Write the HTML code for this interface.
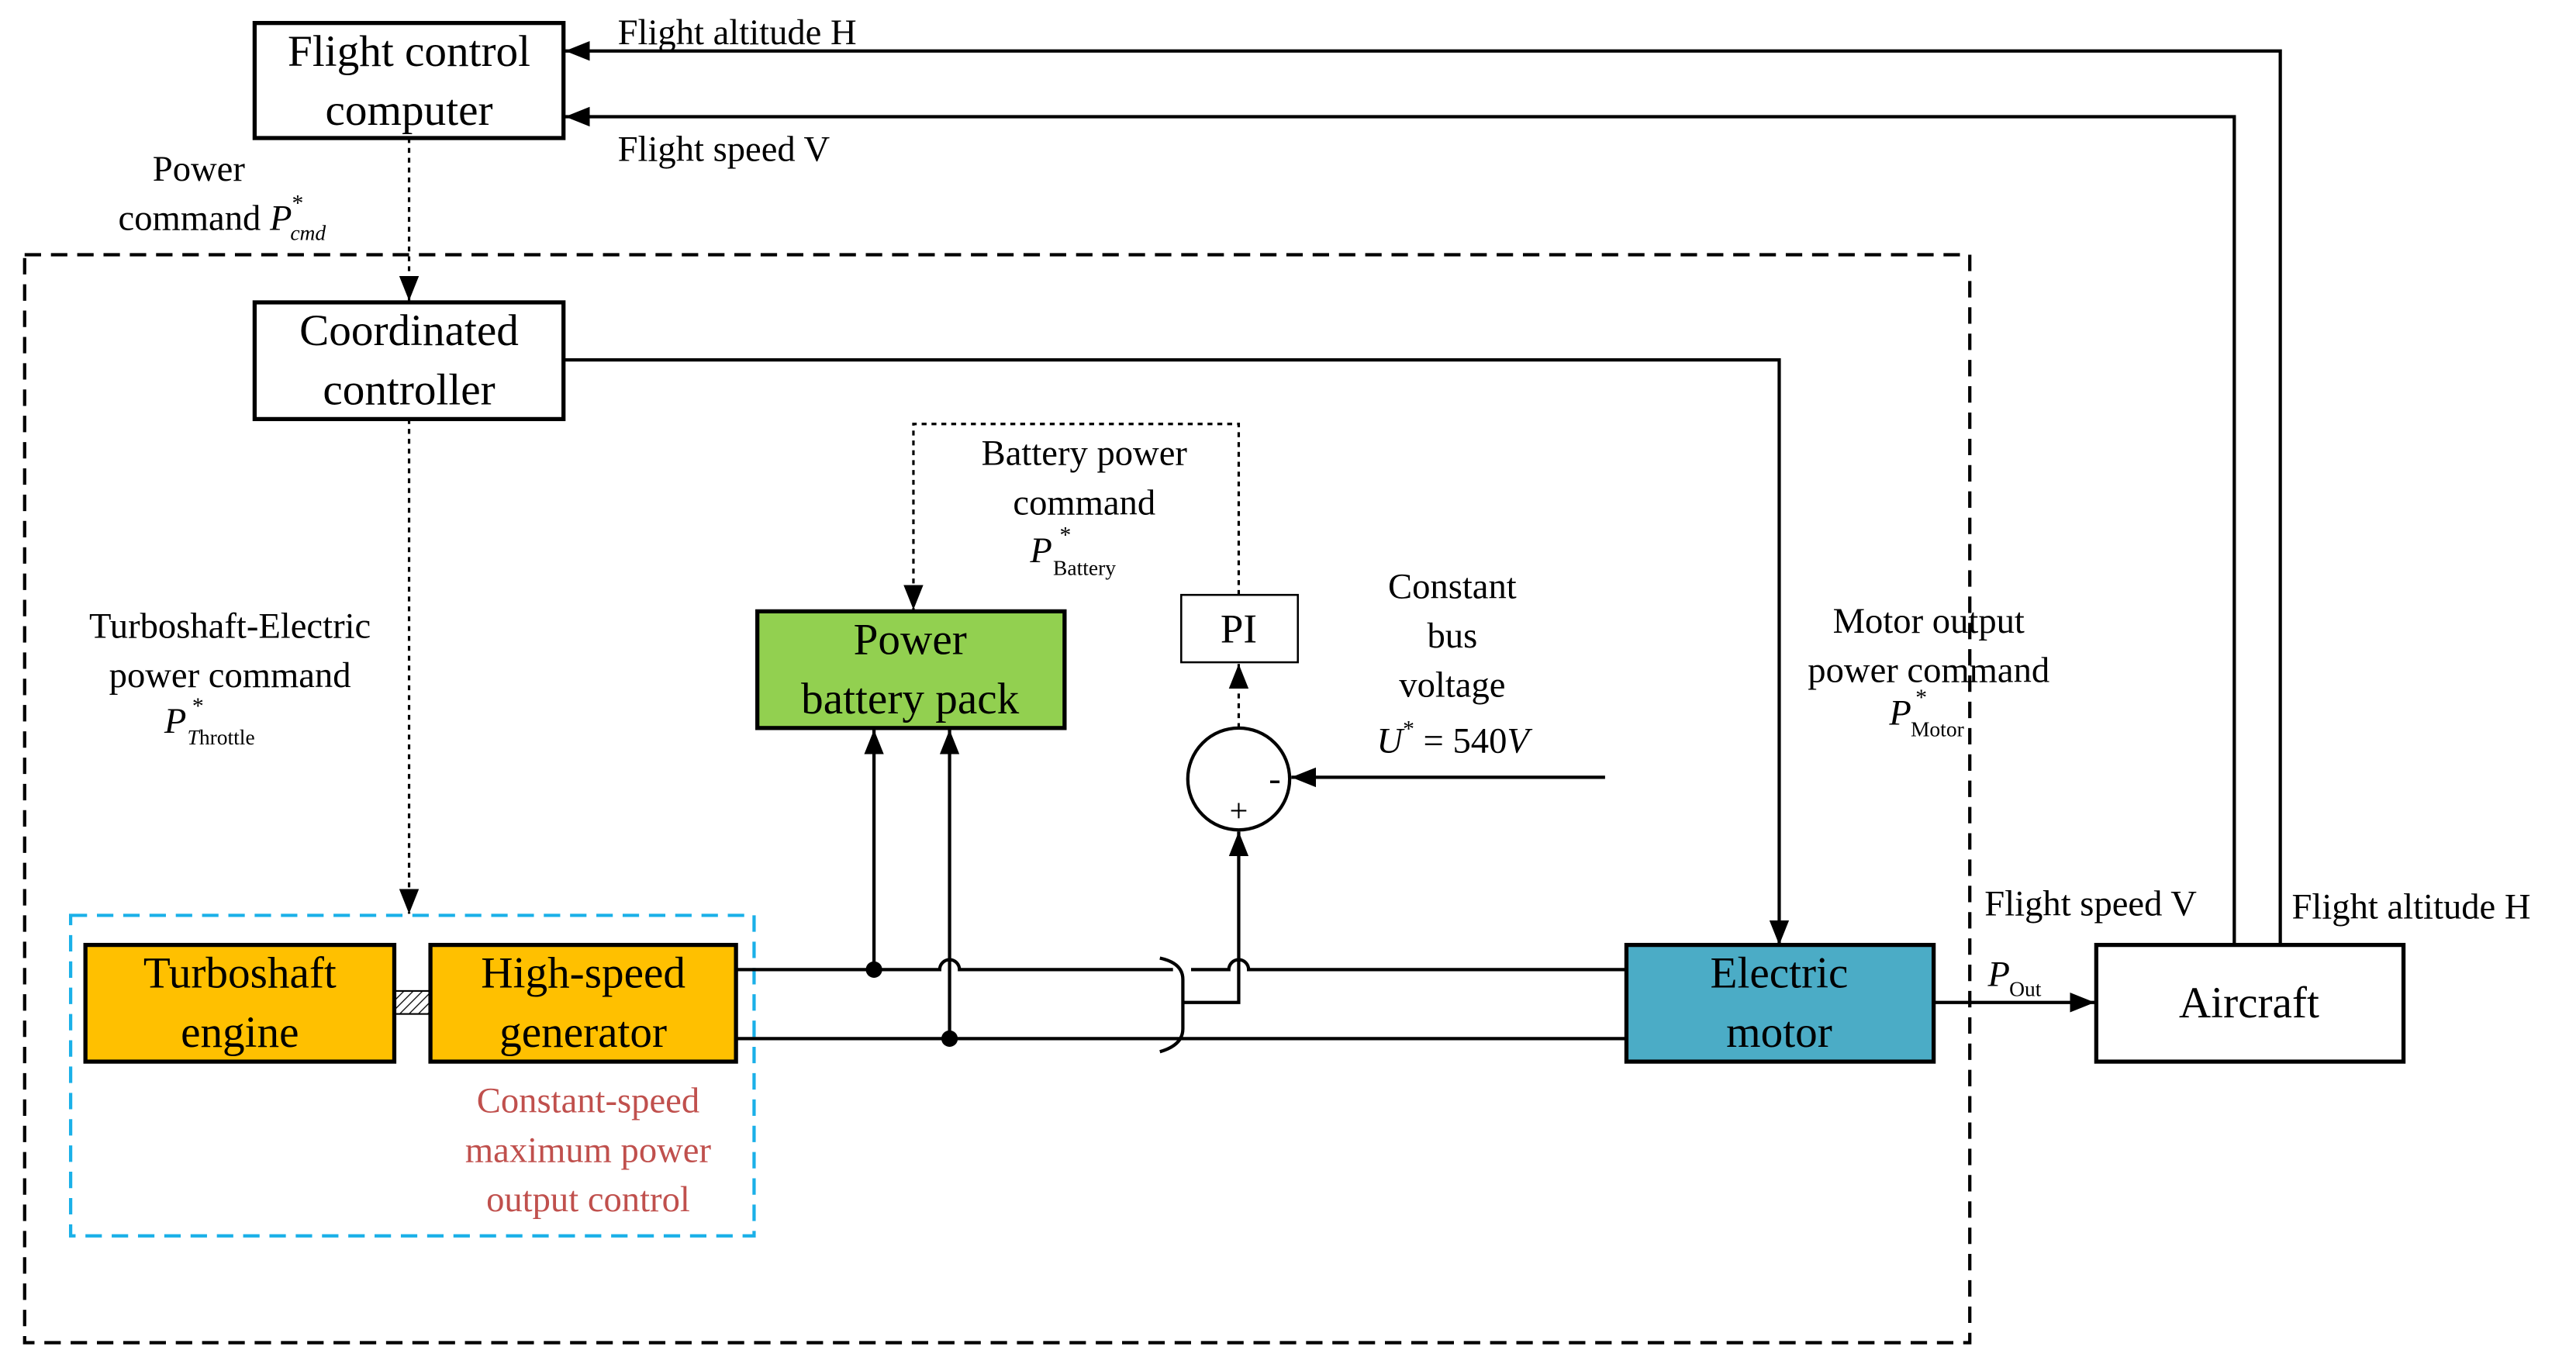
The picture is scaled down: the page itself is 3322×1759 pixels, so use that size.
<!DOCTYPE html>
<html><head><meta charset="utf-8"><style>html,body{margin:0;padding:0;background:#fff}svg{display:block}</style></head>
<body>
<svg width="3322" height="1759" viewBox="0 0 1568 830" preserveAspectRatio="none" xmlns="http://www.w3.org/2000/svg" font-family="Liberation Serif, serif">
<defs>
<marker id="b" viewBox="0 0 10 10" refX="10" refY="5" markerWidth="15" markerHeight="15" markerUnits="userSpaceOnUse" orient="auto"><path d="M0,1L10,5L0,9z" fill="#000"/></marker>
<pattern id="h" width="4" height="4" patternUnits="userSpaceOnUse" patternTransform="rotate(45)"><line x1="0" y1="0" x2="0" y2="4" stroke="#000" stroke-width="1.2"/></pattern>
</defs>
<g fill="none" stroke="#000" stroke-width="2">
<rect x="15" y="155" width="1184" height="662" stroke-dasharray="10,6"/>
<rect x="43" y="557" width="416" height="195" stroke="#1ab0e8" stroke-dasharray="10,6"/>
<polyline points="1388,576 1388,31 344,31" marker-end="url(#b)"/>
<polyline points="1360,576 1360,71 344,71" marker-end="url(#b)"/>
<polyline points="343,219 1083,219 1083,575" marker-end="url(#b)"/>
<line x1="249" y1="84" x2="249" y2="183" stroke-dasharray="3,3" stroke-width="1.5" marker-end="url(#b)"/>
<line x1="249" y1="255" x2="249" y2="556" stroke-dasharray="3,3" stroke-width="1.5" marker-end="url(#b)"/>
<polyline points="754,362 754,258 556,258 556,371" stroke-dasharray="3,3" stroke-width="1.5" marker-end="url(#b)"/>
<line x1="754" y1="443" x2="754" y2="404" stroke-dasharray="3,3" stroke-width="1.5" marker-end="url(#b)"/>
<path d="M448,590 H572 a6,6 0 0 1 12,0 H714"/>
<path d="M725,590 H748 a6,6 0 0 1 12,0 H990"/>
<path d="M448,632 H990"/>
<path d="M706,583 Q720,586 720,596 V626 Q720,636 706,640"/>
<polyline points="720,610 754,610 754,506" marker-end="url(#b)"/>
<line x1="532" y1="590" x2="532" y2="444" marker-end="url(#b)"/>
<line x1="578" y1="632" x2="578" y2="444" marker-end="url(#b)"/>
<line x1="977" y1="473" x2="786" y2="473" marker-end="url(#b)"/>
<line x1="1177" y1="610" x2="1275" y2="610" marker-end="url(#b)"/>
<circle cx="754" cy="474" r="31"/>
</g>
<circle cx="532" cy="590" r="5"/>
<circle cx="578" cy="632" r="5"/>
<g stroke="#000" stroke-width="2.5">
<rect x="155" y="14" width="188" height="70" fill="#fff"/>
<rect x="155" y="184" width="188" height="71" fill="#fff"/>
<rect x="52" y="575" width="188" height="71" fill="#FFC000"/>
<rect x="262" y="575" width="186" height="71" fill="#FFC000"/>
<rect x="461" y="372" width="187" height="71" fill="#92D050"/>
<rect x="990" y="575" width="187" height="71" fill="#4BACC6"/>
<rect x="1276" y="575" width="187" height="71" fill="#fff"/>
</g>
<rect x="719" y="362" width="71" height="41" fill="#fff" stroke="#000" stroke-width="1.2"/>
<rect x="240" y="603" width="22" height="14" fill="url(#h)" stroke="#000" stroke-width="1"/>
<g font-size="27" text-anchor="middle" fill="#000">
<text x="249" y="40">Flight control</text><text x="249" y="76">computer</text>
<text x="249" y="210">Coordinated</text><text x="249" y="246">controller</text>
<text x="146" y="601">Turboshaft</text><text x="146" y="637">engine</text>
<text x="355" y="601">High-speed</text><text x="355" y="637">generator</text>
<text x="554" y="398">Power</text><text x="554" y="434">battery pack</text>
<text x="1083" y="601">Electric</text><text x="1083" y="637">motor</text>
<text x="1369" y="619">Aircraft</text>
<text x="754" y="391" font-size="25">PI</text>
</g>
<g font-size="22" fill="#000">
<text x="376" y="27">Flight altitude H</text>
<text x="376" y="98">Flight speed V</text>
<text x="121" y="110" text-anchor="middle">Power</text>
<text x="72" y="140">command <tspan font-style="italic">P</tspan><tspan font-size="14" dy="-12">*</tspan><tspan font-size="13" font-style="italic" dx="-8" dy="18">cmd</tspan></text>
<text x="660" y="283" text-anchor="middle">Battery power</text>
<text x="660" y="313" text-anchor="middle">command</text>
<text x="627" y="342" font-style="italic">P</text><text x="645" y="330" font-size="14">*</text><text x="641" y="350" font-size="13">Battery</text>
<text x="884" y="364" text-anchor="middle">Constant</text>
<text x="884" y="394" text-anchor="middle">bus</text>
<text x="884" y="424" text-anchor="middle">voltage</text>
<text x="838" y="458"><tspan font-style="italic">U</tspan><tspan font-size="14" dy="-10">*</tspan><tspan dy="10"> = 540</tspan><tspan font-style="italic">V</tspan></text>
<text x="1174" y="385" text-anchor="middle">Motor output</text>
<text x="1174" y="415" text-anchor="middle">power command</text>
<text x="1150" y="441" font-style="italic">P</text><text x="1166" y="429" font-size="14">*</text><text x="1163" y="448" font-size="13">Motor</text>
<text x="140" y="388" text-anchor="middle">Turboshaft-Electric</text>
<text x="140" y="418" text-anchor="middle">power command</text>
<text x="100" y="446" font-style="italic">P</text><text x="117" y="434" font-size="14">*</text><text x="114" y="453" font-size="13"><tspan font-style="italic">T</tspan>hrottle</text>
<text x="1208" y="557">Flight speed V</text>
<text x="1395" y="559">Flight altitude H</text>
<text x="1210" y="600" font-style="italic">P</text><text x="1223" y="606" font-size="13">Out</text>
<text x="776" y="481" font-size="22" text-anchor="middle">-</text>
<text x="754" y="500" font-size="20" text-anchor="middle">+</text>
</g>
<g font-size="22" fill="#C0504D" text-anchor="middle">
<text x="358" y="677">Constant-speed</text>
<text x="358" y="707">maximum power</text>
<text x="358" y="737">output control</text>
</g>
</svg>
</body></html>
